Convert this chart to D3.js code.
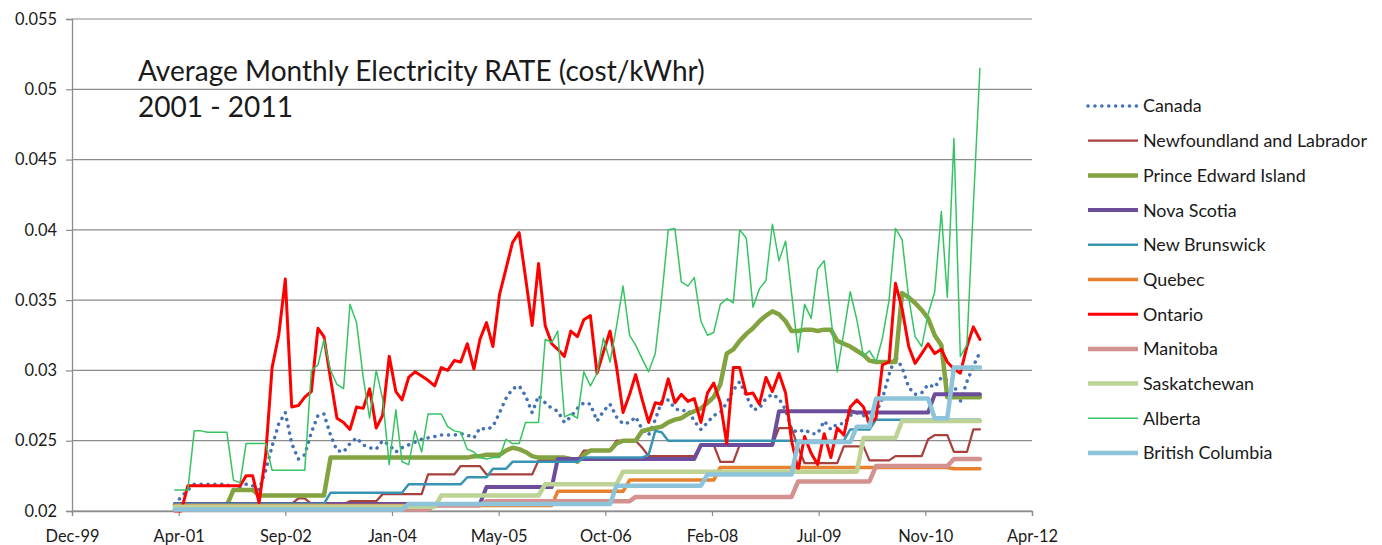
<!DOCTYPE html>
<html>
<head>
<meta charset="utf-8">
<script src="https://cdn.jsdelivr.net/npm/d3@7"></script>
<style>
body { margin: 0; background: #fff; }
text { font-family: Lato, "Open Sans", sans-serif; fill: #1a1a1a; }
</style>
</head>
<body>
<div id="chart"></div>
<script>
// monthly observations, Apr 2001 .. Aug 2011
var firstMonth = "2001-04-01", endMonth = "2011-09-01";
// Excel date axis: every 500 days from 36500 to 41000
var xTickDates = ["1999-12-06","2001-04-19","2002-09-01","2004-01-14","2005-05-28",
	"2006-10-10","2008-02-22","2009-07-06","2010-11-18","2012-04-01"];
var yTicks = [0.02, 0.025, 0.03, 0.035, 0.04, 0.045, 0.05, 0.055];

var seriesNames = ["Canada","Newfoundland and Labrador","Prince Edward Island","Nova Scotia",
	"New Brunswick","Quebec","Ontario","Manitoba","Saskatchewan","Alberta","British Columbia"];

var canada = [
	0.0205,0.0210,0.0215,0.0219,0.0219,0.0219,0.0219,0.0219,0.0219,0.0215,
	0.0217,0.0219,0.0218,0.0215,0.0229,0.0246,0.0262,0.0270,0.0248,0.0237,
	0.0240,0.0256,0.0268,0.0269,0.0254,0.0243,0.0242,0.0248,0.0252,0.0247,
	0.0245,0.0244,0.0250,0.0247,0.0242,0.0245,0.0247,0.0249,0.0251,0.0252,
	0.0253,0.0254,0.0254,0.0254,0.0255,0.0254,0.0252,0.0259,0.0258,0.0260,
	0.0270,0.0280,0.0287,0.0289,0.0282,0.0270,0.0282,0.0277,0.0273,0.0271,
	0.0263,0.0267,0.0273,0.0277,0.0276,0.0264,0.0271,0.0276,0.0267,0.0262,
	0.0263,0.0267,0.0258,0.0254,0.0265,0.0278,0.0279,0.0273,0.0271,0.0272,
	0.0264,0.0258,0.0263,0.0268,0.0270,0.0277,0.0286,0.0292,0.0282,0.0272,
	0.0273,0.0280,0.0283,0.0280,0.0272,0.0258,0.0256,0.0258,0.0255,0.0255,
	0.0264,0.0258,0.0262,0.0262,0.0268,0.0270,0.0268,0.0263,0.0270,0.0280,
	0.0297,0.0310,0.0302,0.0288,0.0283,0.0284,0.0290,0.0288,0.0295,0.0293,
	0.0290,0.0278,0.0292,0.0303,0.0313];

var newfoundland = [
	0.0205,0.0205,0.0205,0.0205,0.0205,0.0205,0.0205,0.0205,0.0205,0.0205,
	0.0205,0.0205,0.0205,0.0205,0.0205,0.0205,0.0205,0.0205,0.0205,0.0209,
	0.0209,0.0205,0.0205,0.0205,0.0205,0.0205,0.0205,0.0207,0.0207,0.0207,
	0.0207,0.0207,0.0212,0.0212,0.0212,0.0212,0.0212,0.0212,0.0212,0.0226,
	0.0226,0.0226,0.0226,0.0226,0.0232,0.0232,0.0232,0.0232,0.0226,0.0226,
	0.0226,0.0226,0.0226,0.0226,0.0226,0.0226,0.0236,0.0236,0.0236,0.0236,
	0.0236,0.0236,0.0236,0.0243,0.0243,0.0243,0.0243,0.0243,0.0250,0.0250,
	0.0250,0.0250,0.0245,0.0239,0.0239,0.0239,0.0239,0.0239,0.0239,0.0239,
	0.0239,0.0247,0.0247,0.0247,0.0235,0.0235,0.0235,0.0247,0.0247,0.0247,
	0.0247,0.0247,0.0247,0.0259,0.0259,0.0259,0.0245,0.0234,0.0234,0.0234,
	0.0234,0.0234,0.0234,0.0246,0.0246,0.0246,0.0246,0.0236,0.0236,0.0236,
	0.0236,0.0239,0.0239,0.0239,0.0239,0.0239,0.0251,0.0254,0.0254,0.0254,
	0.0242,0.0242,0.0242,0.0258,0.0258];

var pei = [
	0.0204,0.0204,0.0204,0.0204,0.0204,0.0204,0.0204,0.0204,0.0204,0.0215,
	0.0215,0.0215,0.0215,0.0211,0.0211,0.0211,0.0211,0.0211,0.0211,0.0211,
	0.0211,0.0211,0.0211,0.0211,0.0238,0.0238,0.0238,0.0238,0.0238,0.0238,
	0.0238,0.0238,0.0238,0.0238,0.0238,0.0238,0.0238,0.0238,0.0238,0.0238,
	0.0238,0.0238,0.0238,0.0238,0.0238,0.0238,0.0239,0.0239,0.0240,0.0240,
	0.0240,0.0243,0.0245,0.0244,0.0242,0.0239,0.0238,0.0238,0.0238,0.0238,
	0.0238,0.0237,0.0235,0.0240,0.0243,0.0243,0.0243,0.0243,0.0248,0.0250,
	0.0250,0.0250,0.0257,0.0258,0.0259,0.0260,0.0263,0.0265,0.0266,0.0269,
	0.0271,0.0273,0.0277,0.0281,0.0290,0.0312,0.0315,0.0321,0.0326,0.0330,
	0.0335,0.0339,0.0342,0.0340,0.0335,0.0328,0.0328,0.0329,0.0329,0.0328,
	0.0329,0.0329,0.0321,0.0319,0.0317,0.0314,0.0311,0.0307,0.0306,0.0306,
	0.0306,0.0306,0.0355,0.0352,0.0348,0.0343,0.0337,0.0325,0.0318,0.0281,
	0.0281,0.0281,0.0281,0.0281,0.0281];

var novaScotia = [
	0.0205,0.0205,0.0205,0.0205,0.0205,0.0205,0.0205,0.0205,0.0205,0.0205,
	0.0205,0.0205,0.0205,0.0205,0.0205,0.0205,0.0205,0.0205,0.0205,0.0205,
	0.0205,0.0205,0.0205,0.0205,0.0205,0.0205,0.0205,0.0205,0.0205,0.0205,
	0.0205,0.0205,0.0205,0.0205,0.0205,0.0205,0.0205,0.0205,0.0205,0.0205,
	0.0205,0.0205,0.0205,0.0205,0.0205,0.0205,0.0205,0.0205,0.0217,0.0217,
	0.0217,0.0217,0.0217,0.0217,0.0217,0.0217,0.0217,0.0217,0.0217,0.0237,
	0.0237,0.0237,0.0237,0.0237,0.0237,0.0237,0.0237,0.0237,0.0237,0.0237,
	0.0237,0.0237,0.0237,0.0237,0.0237,0.0237,0.0237,0.0237,0.0237,0.0237,
	0.0237,0.0247,0.0247,0.0247,0.0247,0.0247,0.0247,0.0247,0.0247,0.0247,
	0.0247,0.0247,0.0247,0.0271,0.0271,0.0271,0.0271,0.0271,0.0271,0.0271,
	0.0271,0.0271,0.0271,0.0271,0.0271,0.0270,0.0270,0.0270,0.0270,0.0270,
	0.0270,0.0270,0.0270,0.0270,0.0270,0.0270,0.0270,0.0283,0.0283,0.0283,
	0.0283,0.0283,0.0283,0.0283,0.0283];

var newBrunswick = [
	0.0205,0.0205,0.0205,0.0205,0.0205,0.0205,0.0205,0.0205,0.0205,0.0205,
	0.0205,0.0205,0.0205,0.0205,0.0205,0.0205,0.0205,0.0205,0.0205,0.0205,
	0.0205,0.0205,0.0205,0.0205,0.0213,0.0213,0.0213,0.0213,0.0213,0.0213,
	0.0213,0.0213,0.0213,0.0213,0.0213,0.0213,0.0219,0.0219,0.0219,0.0219,
	0.0219,0.0219,0.0219,0.0219,0.0219,0.0224,0.0224,0.0224,0.0224,0.0230,
	0.0230,0.0230,0.0235,0.0235,0.0235,0.0235,0.0235,0.0235,0.0235,0.0235,
	0.0235,0.0235,0.0235,0.0238,0.0238,0.0238,0.0238,0.0238,0.0238,0.0238,
	0.0238,0.0238,0.0238,0.0240,0.0257,0.0256,0.0250,0.0250,0.0250,0.0250,
	0.0250,0.0250,0.0250,0.0250,0.0250,0.0250,0.0250,0.0250,0.0250,0.0250,
	0.0250,0.0250,0.0250,0.0250,0.0250,0.0250,0.0250,0.0250,0.0250,0.0250,
	0.0250,0.0250,0.0250,0.0250,0.0258,0.0258,0.0258,0.0258,0.0265,0.0265,
	0.0265,0.0265,0.0265,0.0265,0.0265,0.0265,0.0265,0.0265,0.0265,0.0265,
	0.0265,0.0265,0.0265,0.0265,0.0265];

var quebec = [
	0.0204,0.0204,0.0204,0.0204,0.0204,0.0204,0.0204,0.0204,0.0204,0.0204,
	0.0204,0.0204,0.0204,0.0204,0.0204,0.0204,0.0204,0.0204,0.0204,0.0204,
	0.0204,0.0204,0.0204,0.0204,0.0204,0.0204,0.0204,0.0204,0.0204,0.0204,
	0.0204,0.0204,0.0204,0.0204,0.0204,0.0204,0.0204,0.0204,0.0204,0.0204,
	0.0204,0.0204,0.0204,0.0204,0.0204,0.0204,0.0204,0.0204,0.0204,0.0204,
	0.0204,0.0204,0.0204,0.0204,0.0204,0.0204,0.0204,0.0204,0.0204,0.0214,
	0.0214,0.0214,0.0214,0.0214,0.0214,0.0214,0.0214,0.0214,0.0214,0.0214,
	0.0222,0.0222,0.0222,0.0222,0.0222,0.0222,0.0222,0.0222,0.0222,0.0222,
	0.0222,0.0222,0.0222,0.0222,0.0231,0.0231,0.0231,0.0231,0.0231,0.0231,
	0.0231,0.0231,0.0231,0.0231,0.0231,0.0231,0.0231,0.0231,0.0231,0.0231,
	0.0231,0.0231,0.0231,0.0231,0.0231,0.0231,0.0231,0.0231,0.0231,0.0231,
	0.0231,0.0231,0.0231,0.0231,0.0231,0.0231,0.0231,0.0231,0.0231,0.0231,
	0.0230,0.0230,0.0230,0.0230,0.0230];

var ontario = [
	0.0200,0.0200,0.0218,0.0218,0.0218,0.0218,0.0218,0.0218,0.0218,0.0218,
	0.0218,0.0225,0.0225,0.0206,0.0240,0.0302,0.0325,0.0365,0.0274,0.0275,
	0.0281,0.0285,0.0330,0.0324,0.0294,0.0266,0.0263,0.0258,0.0274,0.0273,
	0.0287,0.0259,0.0268,0.0310,0.0285,0.0279,0.0295,0.0299,0.0296,0.0293,
	0.0289,0.0302,0.0300,0.0307,0.0306,0.0319,0.0301,0.0322,0.0334,0.0317,
	0.0354,0.0372,0.0391,0.0398,0.0366,0.0332,0.0376,0.0332,0.0319,0.0315,
	0.0310,0.0328,0.0324,0.0336,0.0339,0.0298,0.0313,0.0328,0.0303,0.0270,
	0.0283,0.0297,0.0279,0.0263,0.0277,0.0276,0.0294,0.0277,0.0283,0.0278,
	0.0280,0.0263,0.0284,0.0291,0.0277,0.0248,0.0302,0.0302,0.0283,0.0284,
	0.0276,0.0295,0.0285,0.0298,0.0284,0.0250,0.0229,0.0253,0.0241,0.0233,
	0.0255,0.0238,0.0259,0.0254,0.0274,0.0279,0.0274,0.0262,0.0266,0.0304,
	0.0306,0.0362,0.0344,0.0317,0.0305,0.0312,0.0319,0.0312,0.0315,0.0306,
	0.0301,0.0298,0.0317,0.0331,0.0322];

var manitoba = [
	0.0201,0.0201,0.0201,0.0201,0.0201,0.0201,0.0201,0.0201,0.0201,0.0201,
	0.0201,0.0201,0.0201,0.0201,0.0201,0.0201,0.0201,0.0201,0.0201,0.0201,
	0.0201,0.0201,0.0201,0.0201,0.0201,0.0201,0.0201,0.0201,0.0201,0.0201,
	0.0201,0.0201,0.0201,0.0201,0.0201,0.0201,0.0201,0.0201,0.0201,0.0201,
	0.0204,0.0204,0.0204,0.0204,0.0204,0.0204,0.0204,0.0204,0.0207,0.0207,
	0.0207,0.0207,0.0207,0.0207,0.0207,0.0207,0.0207,0.0207,0.0207,0.0207,
	0.0207,0.0207,0.0207,0.0207,0.0207,0.0207,0.0207,0.0207,0.0207,0.0207,
	0.0207,0.0210,0.0210,0.0210,0.0210,0.0210,0.0210,0.0210,0.0210,0.0210,
	0.0210,0.0210,0.0210,0.0210,0.0210,0.0210,0.0210,0.0210,0.0210,0.0210,
	0.0210,0.0210,0.0210,0.0210,0.0210,0.0210,0.0221,0.0221,0.0221,0.0221,
	0.0221,0.0221,0.0221,0.0221,0.0221,0.0221,0.0221,0.0221,0.0232,0.0232,
	0.0232,0.0232,0.0232,0.0232,0.0232,0.0232,0.0232,0.0232,0.0232,0.0232,
	0.0237,0.0237,0.0237,0.0237,0.0237];

var saskatchewan = [
	0.0203,0.0203,0.0203,0.0203,0.0203,0.0203,0.0203,0.0203,0.0203,0.0203,
	0.0203,0.0203,0.0203,0.0203,0.0203,0.0203,0.0203,0.0203,0.0203,0.0203,
	0.0203,0.0203,0.0203,0.0203,0.0203,0.0203,0.0203,0.0203,0.0203,0.0203,
	0.0203,0.0203,0.0203,0.0203,0.0203,0.0203,0.0203,0.0203,0.0203,0.0203,
	0.0203,0.0211,0.0211,0.0211,0.0211,0.0211,0.0211,0.0211,0.0211,0.0211,
	0.0211,0.0211,0.0211,0.0211,0.0211,0.0211,0.0211,0.0219,0.0219,0.0219,
	0.0219,0.0219,0.0219,0.0219,0.0219,0.0219,0.0219,0.0219,0.0219,0.0228,
	0.0228,0.0228,0.0228,0.0228,0.0228,0.0228,0.0228,0.0228,0.0228,0.0228,
	0.0228,0.0228,0.0228,0.0228,0.0228,0.0228,0.0228,0.0228,0.0228,0.0228,
	0.0228,0.0228,0.0228,0.0228,0.0228,0.0228,0.0228,0.0228,0.0228,0.0228,
	0.0228,0.0228,0.0228,0.0228,0.0228,0.0228,0.0252,0.0252,0.0252,0.0252,
	0.0252,0.0252,0.0264,0.0264,0.0264,0.0264,0.0264,0.0264,0.0264,0.0264,
	0.0264,0.0264,0.0264,0.0264,0.0264];

var alberta = [
	0.0215,0.0215,0.0215,0.0257,0.0257,0.0256,0.0256,0.0256,0.0256,0.0222,
	0.0220,0.0248,0.0248,0.0248,0.0248,0.0229,0.0229,0.0229,0.0229,0.0229,
	0.0229,0.0300,0.0304,0.0322,0.0300,0.0290,0.0287,0.0347,0.0334,0.0295,
	0.0266,0.0300,0.0280,0.0233,0.0272,0.0235,0.0233,0.0257,0.0242,0.0269,
	0.0269,0.0269,0.0260,0.0257,0.0256,0.0244,0.0242,0.0238,0.0237,0.0238,
	0.0238,0.0251,0.0248,0.0248,0.0263,0.0263,0.0263,0.0322,0.0320,0.0328,
	0.0267,0.0269,0.0266,0.0299,0.0289,0.0298,0.0323,0.0306,0.0331,0.0360,
	0.0325,0.0318,0.0308,0.0299,0.0312,0.0352,0.0400,0.0401,0.0363,0.0360,
	0.0366,0.0335,0.0325,0.0327,0.0347,0.0351,0.0348,0.0400,0.0394,0.0345,
	0.0358,0.0364,0.0404,0.0378,0.0392,0.0355,0.0313,0.0347,0.0337,0.0372,
	0.0378,0.0338,0.0299,0.0327,0.0356,0.0336,0.0310,0.0314,0.0306,0.0323,
	0.0350,0.0401,0.0393,0.0352,0.0324,0.0317,0.0340,0.0356,0.0413,0.0352,
	0.0465,0.0310,0.0318,0.0417,0.0515];

var britishColumbia = [
	0.0201,0.0201,0.0201,0.0201,0.0201,0.0201,0.0201,0.0201,0.0201,0.0201,
	0.0201,0.0201,0.0201,0.0201,0.0201,0.0201,0.0201,0.0201,0.0201,0.0201,
	0.0201,0.0201,0.0201,0.0201,0.0201,0.0201,0.0201,0.0201,0.0201,0.0201,
	0.0201,0.0201,0.0201,0.0201,0.0201,0.0201,0.0205,0.0205,0.0205,0.0205,
	0.0205,0.0205,0.0205,0.0205,0.0205,0.0205,0.0205,0.0205,0.0205,0.0205,
	0.0205,0.0205,0.0205,0.0205,0.0205,0.0205,0.0205,0.0205,0.0205,0.0205,
	0.0205,0.0205,0.0205,0.0205,0.0205,0.0205,0.0205,0.0205,0.0218,0.0218,
	0.0218,0.0218,0.0218,0.0218,0.0218,0.0218,0.0218,0.0218,0.0218,0.0218,
	0.0218,0.0218,0.0226,0.0226,0.0226,0.0226,0.0226,0.0226,0.0226,0.0226,
	0.0226,0.0226,0.0226,0.0226,0.0226,0.0226,0.0249,0.0249,0.0249,0.0249,
	0.0249,0.0249,0.0249,0.0249,0.0249,0.0260,0.0260,0.0260,0.0280,0.0280,
	0.0280,0.0280,0.0280,0.0280,0.0280,0.0280,0.0280,0.0266,0.0266,0.0266,
	0.0302,0.0302,0.0302,0.0302,0.0302];

var seriesValues = [canada, newfoundland, pei, novaScotia, newBrunswick, quebec,
	ontario, manitoba, saskatchewan, alberta, britishColumbia];
var seriesColors = ["#4472b4","#a8403c","#82a33f","#6b4d9b","#3894b4","#e8812f",
	"#ff0000","#d3918f","#bcd395","#36c463","#8dc4da"];
var seriesWidths = [3.5, 2.25, 4.5, 4, 2.5, 3.5, 3, 4.5, 4.5, 1.5, 4.5];

var margin = { top: 19, right: 350, bottom: 34, left: 72 },
	width = 1382 - margin.left - margin.right,
	height = 545 - margin.top - margin.bottom;

var parseDay = d3.utcParse("%Y-%m-%d");
var months = d3.utcMonth.range(parseDay(firstMonth), parseDay(endMonth));
var tickDates = xTickDates.map(parseDay);

var root = d3.select("#chart").append("svg")
	.attr("width", 1382)
	.attr("height", 545);

// scale a font so a string reaches a measured width
function fitSize(str, target) {
	var t = root.append("text").style("font-size", "20px").text(str);
	var w = t.node().getComputedTextLength();
	t.remove();
	return 20 * target / w;
}
var tickFont = fitSize("0.055", 42),
	legendFont = fitSize("Newfoundland and Labrador", 224),
	titleFont = fitSize("Average Monthly Electricity RATE (cost/kWhr)", 567);

var svg = root.append("g")
	.attr("transform", "translate(" + margin.left + "," + margin.top + ")");

var x = d3.scaleUtc()
	.domain([tickDates[0], tickDates[tickDates.length - 1]])
	.range([0, width]);
var y = d3.scaleLinear()
	.domain([yTicks[0], yTicks[yTicks.length - 1]])
	.range([height, 0]);

svg.selectAll(".grid")
	.data(yTicks)
	.enter().append("line")
	.attr("class", "grid")
	.attr("x1", 0).attr("x2", width)
	.attr("y1", function (d) { return y(d); })
	.attr("y2", function (d) { return y(d); })
	.style("stroke", "#8c8c8c")
	.style("stroke-width", 1.2);

var yAxis = svg.append("g")
	.call(d3.axisLeft(y).tickValues(yTicks).tickSize(6).tickPadding(9)
		.tickFormat(d3.format("~g")));
var xAxis = svg.append("g")
	.attr("transform", "translate(0," + height + ")")
	.call(d3.axisBottom(x).tickValues(tickDates).tickSize(5)
		.tickFormat(d3.utcFormat("%b-%y")));

[yAxis, xAxis].forEach(function (ax) {
	ax.select(".domain").style("stroke", "#8c8c8c").style("stroke-width", 1.3);
	ax.selectAll(".tick line").style("stroke", "#8c8c8c").style("stroke-width", 1.2);
	ax.selectAll("text").style("font-family", "Lato, sans-serif")
		.style("font-size", tickFont + "px").style("fill", "#1a1a1a");
});
xAxis.selectAll("text").attr("y", 31).attr("dy", null);

var line = d3.line()
	.x(function (d, i) { return x(months[i]); })
	.y(function (d) { return y(d); });

function styleSeries(sel, i) {
	sel.style("fill", "none")
		.style("stroke", seriesColors[i])
		.style("stroke-width", seriesWidths[i])
		.style("stroke-linejoin", "round")
		.style("stroke-linecap", "round");
	if (i === 0) sel.style("stroke-dasharray", "0.1,6.8");
}

seriesValues.forEach(function (vals, i) {
	svg.append("path")
		.datum(vals)
		.attr("d", line)
		.call(styleSeries, i);
});

// title
var title = root.append("text")
	.attr("x", 138)
	.style("font-size", titleFont + "px");
title.append("tspan").attr("x", 138).attr("y", 81)
	.text("Average Monthly Electricity RATE (cost/kWhr)");
title.append("tspan").attr("x", 138).attr("y", 117)
	.text("2001 - 2011");

// legend
var legend = root.append("g").attr("transform", "translate(1088,106)");
var items = legend.selectAll(".item")
	.data(seriesNames)
	.enter().append("g")
	.attr("class", "item")
	.attr("transform", function (d, i) { return "translate(0," + (i * 34.7) + ")"; });
items.append("line")
	.attr("x1", 0).attr("x2", 50)
	.each(function (d, i) { d3.select(this).call(styleSeries, i); })
	.style("stroke-linecap", function (d, i) { return i === 0 ? "round" : "butt"; });
items.append("text")
	.attr("x", 55)
	.attr("dy", "0.36em")
	.style("font-size", legendFont + "px")
	.text(function (d) { return d; });
</script>
</body>
</html>
